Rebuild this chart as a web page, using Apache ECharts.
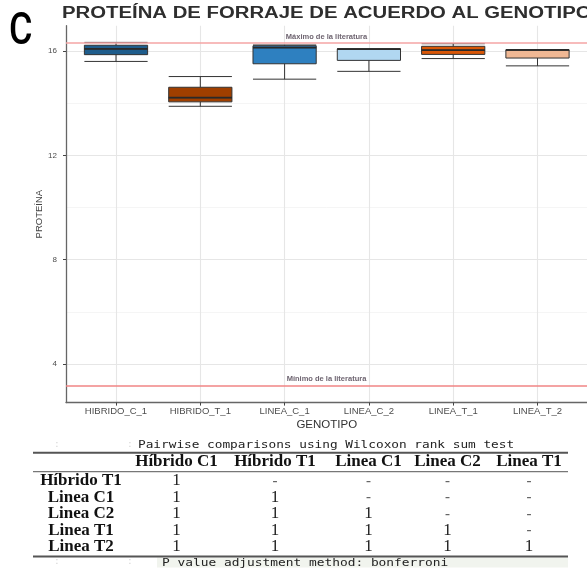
<!DOCTYPE html>
<html>
<head>
<meta charset="utf-8">
<script src="https://cdn.jsdelivr.net/npm/echarts@6/dist/echarts.min.js"></script>
<style>
html,body{margin:0;padding:0;background:#fff;}
#chart{width:587px;height:571px;}
</style>
</head>
<body>
<div id="chart"></div>
<script>
// ---------- data ----------
const categories = ['HIBRIDO_C_1','HIBRIDO_T_1','LINEA_C_1','LINEA_C_2','LINEA_T_1','LINEA_T_2'];
const whiskerLow  = [15.60, 13.88, 14.92, 15.22, 15.71, 15.43];
const q1          = [15.86, 14.05, 15.51, 15.64, 15.87, 15.73];
const median      = [16.08, 14.21, 16.13, 16.07, 16.03, 16.04];
const q3          = [16.22, 14.61, 16.20, 16.08, 16.18, 16.04];
const whiskerHigh = [16.33, 15.02, 16.23, 16.08, 16.28, 16.04];
const boxColors   = ['#1f5d8c','#a03f00','#2e80c0','#b1d7f1','#d95707','#f0b894'];
const yTicks      = [4, 8, 12, 16];
const yMinorTicks = [6, 10, 14];
const litMax = 16.30, litMin = 3.18;
const litMaxLabel = 'Máximo de la literatura';
const litMinLabel = 'Mínimo de la literatura';
const yRange = [2.52, 16.97];

const titleText = 'PROTEÍNA DE FORRAJE DE ACUERDO AL GENOTIPO';
const panelLetter = 'C';
const tableTitle = 'Pairwise comparisons using Wilcoxon rank sum test';
const tableFooter = 'P value adjustment method: bonferroni';
const tableHeader = ['Híbrido C1','Híbrido T1','Linea C1','Linea C2','Linea T1'];
const tableRows   = ['Híbrido T1','Linea C1','Linea C2','Linea T1','Linea T2'];
const pValues = [
  ['1','-','-','-','-'],
  ['1','1','-','-','-'],
  ['1','1','1','-','-'],
  ['1','1','1','1','-'],
  ['1','1','1','1','1']
];

// ---------- layout ----------
const plotTop = 25.7, plotBottom = 402.6, plotLeft = 66;
const band = 84.3;
const catLeft = 116 - band / 2;
const H = 571, W = 587;

const colX = [176.5, 275, 368.5, 447.5, 529];
const rowLabelX = 81;
const headerY = 461.7;
const rowY0 = 480.8, rowStep = 16.5;

const chart = echarts.init(document.getElementById('chart'), null, {renderer: 'canvas'});

const boxData = categories.map((c, i) => ({
  value: [whiskerLow[i], q1[i], median[i], q3[i], whiskerHigh[i]],
  itemStyle: {color: boxColors[i], borderColor: '#333', borderWidth: 1}
}));

const graphics = [];
// panel letter
graphics.push({type: 'text', x: 9, y: 32.5, scaleX: 0.8, z: 10,
  style: {text: panelLetter, x: 0, y: 0, font: '500 45px Roboto', fill: '#000', verticalAlign: 'middle', align: 'left'}});
// title
graphics.push({type: 'text', x: 62, y: 13.5, scaleX: 1.27, z: 10,
  style: {text: titleText, x: 0, y: 0, font: 'bold 16px "Liberation Sans"', fill: '#2e2e2e', verticalAlign: 'middle', align: 'left'}});

// table
const mono = '10px "DejaVu Sans Mono"';
graphics.push({type: 'rect', z: 1, shape: {x: 157, y: 557.5, width: 411, height: 10}, style: {fill: '#f1f4ee'}});
graphics.push({type: 'line', z: 2, shape: {x1: 33, y1: 452.7, x2: 568, y2: 452.7}, style: {stroke: '#555', lineWidth: 2}});
graphics.push({type: 'line', z: 2, shape: {x1: 33, y1: 471.7, x2: 568, y2: 471.7}, style: {stroke: '#777', lineWidth: 1.3}});
graphics.push({type: 'line', z: 2, shape: {x1: 33, y1: 556.5, x2: 568, y2: 556.5}, style: {stroke: '#555', lineWidth: 2}});
graphics.push({type: 'text', z: 3, x: 138, y: 445, scaleX: 1.275, style: {text: tableTitle, x: 0, y: 0, font: mono, fill: '#222', verticalAlign: 'middle'}});
graphics.push({type: 'text', z: 3, x: 162, y: 563, scaleX: 1.285, style: {text: tableFooter, x: 0, y: 0, font: mono, fill: '#222', verticalAlign: 'middle'}});
[[57,445],[130,445],[57,562],[130,562],[500,562]].forEach(p => {
  graphics.push({type: 'text', style: {text: ':', x: p[0], y: p[1], font: '8px "DejaVu Sans Mono"', fill: '#d0d0d0', align: 'center', verticalAlign: 'middle'}});
});
const serifB = 'bold 17px "Liberation Serif"';
const serif = '17px "Liberation Serif"';
tableHeader.forEach((h, j) => {
  graphics.push({type: 'text', style: {text: h, x: colX[j], y: headerY, font: serifB, fill: '#111', align: 'center', verticalAlign: 'middle'}});
});
tableRows.forEach((r, i) => {
  const y = rowY0 + i * rowStep;
  graphics.push({type: 'text', style: {text: r, x: rowLabelX, y: y, font: serifB, fill: '#111', align: 'center', verticalAlign: 'middle'}});
  pValues[i].forEach((v, j) => {
    graphics.push({type: 'text', style: {text: v, x: colX[j], y: y, font: v === '-' ? 'bold 15px "Liberation Serif"' : serif, fill: v === '-' ? '#666' : '#222', align: 'center', verticalAlign: 'middle'}});
  });
});

const gridLineData = yTicks.map(v => ({yAxis: v, lineStyle: {color: '#e6e6e6', width: 1.1, type: 'solid'}}))
  .concat(yMinorTicks.map(v => ({yAxis: v, lineStyle: {color: '#f1f1f1', width: 0.7, type: 'solid'}})));

const option = {
  animation: false,
  backgroundColor: '#fff',
  grid: [
    {left: plotLeft, right: 0, top: plotTop, bottom: H - plotBottom},
    {left: catLeft, width: band * categories.length, top: plotTop, bottom: H - plotBottom}
  ],
  xAxis: [
    {type: 'value', gridIndex: 0, min: 0, max: 1,
     axisLine: {show: true, lineStyle: {color: '#666', width: 1.3}},
     axisTick: {show: false}, axisLabel: {show: false}, splitLine: {show: false}},
    {type: 'category', gridIndex: 1, data: categories, boundaryGap: true,
     axisLine: {show: false},
     axisTick: {show: true, alignWithLabel: true, length: 3, lineStyle: {color: '#444'}},
     axisLabel: {margin: 4, fontSize: 9.5, color: '#4d4d4d', fontFamily: 'Liberation Sans', interval: 0},
     splitLine: {show: false},
     name: 'GENOTIPO', nameLocation: 'middle', nameGap: 16, nameMoveOverlap: false,
     nameTextStyle: {fontSize: 11.5, color: '#333', fontFamily: 'Liberation Sans'}}
  ],
  yAxis: [
    {type: 'value', gridIndex: 0, min: yRange[0], max: yRange[1],
     axisLine: {show: true, lineStyle: {color: '#666', width: 1.3}},
     axisTick: {show: true, length: 3, customValues: yTicks, lineStyle: {color: '#444'}},
     axisLabel: {show: true, customValues: yTicks, margin: 9, fontSize: 8, color: '#4d4d4d', fontFamily: 'Liberation Sans'},
     splitLine: {show: false},
     name: 'PROTEÍNA', nameLocation: 'middle', nameGap: 22, nameMoveOverlap: false,
     nameTextStyle: {fontSize: 9.5, color: '#444', fontFamily: 'Liberation Sans'}},
    {type: 'value', gridIndex: 1, min: yRange[0], max: yRange[1], show: false,
     splitLine: {show: false}}
  ],
  graphic: graphics,
  series: [
    {type: 'line', xAxisIndex: 0, yAxisIndex: 0, z: 0, data: [[0.5, yRange[0]]], showSymbol: false, symbol: 'none',
     lineStyle: {opacity: 0}, silent: true,
     markLine: {z: 0, silent: true, symbol: 'none', label: {show: false}, animation: false, data: gridLineData}},
    {type: 'line', xAxisIndex: 1, yAxisIndex: 1, z: 0, data: [[categories[0], yRange[0]]], showSymbol: false, symbol: 'none',
     lineStyle: {opacity: 0}, silent: true,
     markLine: {z: 0, silent: true, symbol: 'none', label: {show: false}, animation: false,
       data: categories.map(c => ({xAxis: c, lineStyle: {color: '#e6e6e6', width: 1.1, type: 'solid'}}))}},
    {type: 'boxplot', xAxisIndex: 1, yAxisIndex: 1, z: 3, boxWidth: [band * 0.75, band * 0.75],
     data: boxData, silent: true},
    {type: 'custom', xAxisIndex: 1, yAxisIndex: 1, z: 4, silent: true,
     data: categories.map((c, i) => [i, median[i]]),
     renderItem: function (params, api) {
       const p = api.coord([api.value(0), api.value(1)]);
       const bw = api.size([1, 0])[0] * 0.75;
       return {type: 'line', shape: {x1: p[0] - bw / 2, y1: p[1], x2: p[0] + bw / 2, y2: p[1]},
               style: {stroke: '#2a2a2a', lineWidth: 1.8}};
     }},
    {type: 'line', xAxisIndex: 0, yAxisIndex: 0, z: 6, data: [[0.5, yRange[0]]], showSymbol: false, symbol: 'none',
     lineStyle: {opacity: 0}, silent: true,
     markLine: {z: 6, silent: true, symbol: 'none', animation: false,
       label: {show: true, position: 'middle', distance: 2, fontSize: 7.5, fontWeight: 'bold', color: '#6e6470', fontFamily: 'Liberation Sans'},
       data: [
         {yAxis: litMax, label: {formatter: litMaxLabel}, lineStyle: {color: '#f5a5a5', width: 1.5, type: 'solid'}},
         {yAxis: litMin, label: {formatter: litMinLabel}, lineStyle: {color: '#f08585', width: 1.5, type: 'solid'}}
       ]}}
  ]
};
chart.setOption(option);
</script>
</body>
</html>
